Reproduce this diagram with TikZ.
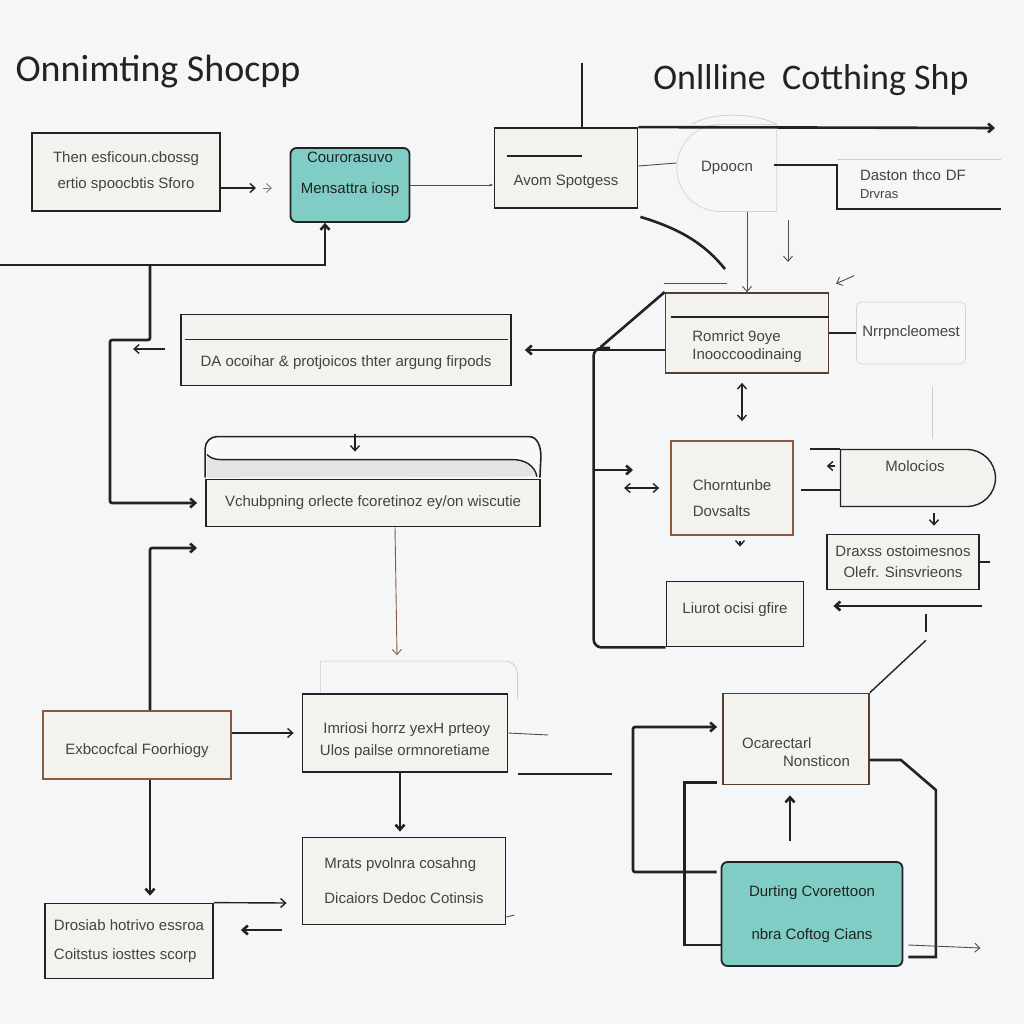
\documentclass[tikz,border=0pt]{standalone}
\usepackage{fontspec}
\setmainfont{Liberation Sans}
\newfontfamily\headfont{Carlito}
\usetikzlibrary{positioning, shapes.misc, arrows.meta}
\newcommand{\boxfont}{\fontsize{15}{18}\selectfont}

\definecolor{bgcol}{HTML}{F4F6F8}
\definecolor{paper}{HTML}{F3F2EF}
\definecolor{tealfill}{HTML}{7FCDC4}
\definecolor{ink}{HTML}{222222}
\definecolor{rust}{HTML}{8A5A3E}
\definecolor{band}{HTML}{E4E4E2}

\begin{document}
\begin{tikzpicture}[
        x = 1pt, y = -1pt,
        on grid,
        ->,
        >={Straight Barb[length=5pt, width=9pt]},
        base/.style = {rectangle, draw = ink, line width = 1.8pt, fill = paper,
                       text = ink!85, font = \boxfont, align = center, inner sep = 0pt},
        tealbase/.style = {base, fill = tealfill, text = ink, rounded corners = 6pt},
        rustbase/.style = {base, draw = rust},
        ghost/.style = {base, draw = gray!35, line width = 0.7pt, fill = paper!60},
        head/.style = {font = \headfont\fontsize{38}{40}\selectfont, text = ink},
        heavy/.style = {draw = ink, line width = 2.6pt},
        med/.style = {draw = ink, line width = 1.4pt},
        thinline/.style = {draw = ink!80, line width = 0.9pt},
        faint/.style = {draw = gray!40, line width = 0.7pt}]

      \fill[bgcol] (0,0) rectangle (1024,1024);
      \useasboundingbox (0,0) rectangle (1024,1024);

      %top row
      \node[base, minimum width = 188pt, minimum height = 78pt] (Intro) at (126,172)
        {Then esficoun.cbossg\\[8pt]ertio spoocbtis Sforo};
      \node[head] (TitleLeft) [above right = 100pt and 32pt of Intro] {Onnimting Shocpp};
      \node[tealbase, minimum width = 119pt, minimum height = 74pt] (Courier)
        [below right = 13pt and 224pt of Intro]
        {Courorasuvo\\[13pt]Mensattra iosp\\[6pt]\vphantom{A}};
      \node[base, minimum width = 143pt, minimum height = 80pt] (Avom)
        [above right = 17pt and 216pt of Courier] {\vphantom{A}\\[10pt]Avom Spotgess};
      \node[head, font = \headfont\fontsize{36}{40}\selectfont] (TitleRight)
        [above right = 88pt and 245pt of Avom] {Onllline\ \ Cotthing Shp};
      \node[ghost, rounded rectangle, rounded rectangle right arc = none,
            minimum width = 100pt, minimum height = 87pt] (Dpoocn)
        [right = 161pt of Avom] {Dpoocn};
      \node[base, draw = none, fill = none, align = left, minimum width = 162pt,
            minimum height = 48pt, text width = 118pt, inner xsep = 22pt] (Daston)
        [below right = 16pt and 353pt of Avom]
        {Daston thco DF\\{\fontsize{13}{14}\selectfont Drvras}};

      %right column
      \node[base, draw = rust!50!ink, align = left, minimum width = 163pt, minimum height = 80pt]
        (Romrict) [below right = 165pt and 181pt of Avom]
        {\vphantom{A}\\[10pt]Romrict 9oye\\Inooccoodinaing};
      \node[ghost, rounded corners = 5pt, minimum width = 109pt, minimum height = 62pt]
        (Nrrp) [right = 164pt of Romrict] {Nrrpncleomest};
      \node[rustbase, align = left, minimum width = 122pt, minimum height = 94pt] (Chorn)
        [below left = 155pt and 15pt of Romrict]
        {\vphantom{A}\\[2pt]Chorntunbe\\[8pt]Dovsalts};
      \node[base, line width = 1.4pt, rounded rectangle, rounded rectangle left arc = none,
            minimum width = 155pt, minimum height = 57pt] (Molo)
        [above right = 10pt and 183pt of Chorn] {Molocios\\[6pt]\vphantom{A}};
      \node[base, line width = 1.5pt, minimum width = 152pt, minimum height = 55pt] (Draxss)
        [below left = 84pt and 12pt of Molo]
        {Draxss ostoimesnos\\[3pt]Olefr. Sinsvrieons};
      \node[base, minimum width = 137pt, minimum height = 65pt] (Linot)
        [below right = 126pt and 3pt of Chorn] {Liurot ocisi gfire\\[-6pt]\vphantom{A}};

      %middle
      \node[base, minimum width = 330pt, minimum height = 71pt] (Protocol)
        [below right = 178pt and 220pt of Intro]
        {\vphantom{A}\\[8pt]DA ocoihar \& protjoicos thter argung firpods};
      \node[base, minimum width = 334pt, minimum height = 47pt] (Vchub)
        [below right = 153pt and 27pt of Protocol]
        {Vchubpning orlecte fcoretinoz ey/on wiscutie};

      %bottom rows
      \node[rustbase, minimum width = 188pt, minimum height = 68pt] (Extra)
        [below right = 573pt and 11pt of Intro] {\vphantom{A}\\[-6pt]Exbcocfcal Foorhiogy};
      \node[base, align = right, minimum width = 205pt, minimum height = 78pt] (Inmiosi)
        [above right = 12pt and 268pt of Extra]
        {\vphantom{A}\\[-2pt]Imriosi horrz yexH prteoy\\[4pt]Ulos pailse ormnoretiame};
      \node[base, align = left, minimum width = 203pt, minimum height = 87pt] (Mrats)
        [below left = 148pt and 1pt of Inmiosi]
        {Mrats pvolnra cosahng\\[17pt]Dicaiors Dedoc Cotinsis};
      \node[base, align = left, minimum width = 168pt, minimum height = 75pt] (Drosiab)
        [below left = 196pt and 8pt of Extra]
        {Drosiab hotrivo essroa\\[11pt]Coitstus iosttes scorp};
      \node[base, draw = rust!50!ink, align = left, minimum width = 146pt, minimum height = 91pt]
        (Ocar) [below right = 125pt and 61pt of Linot]
        {\vphantom{A}\\[8pt]Ocarectarl\\\hspace*{41pt}Nonsticon};
      \node[tealbase, minimum width = 181pt, minimum height = 104pt] (Durting)
        [below right = 175pt and 16pt of Ocar]
        {Durting Cvorettoon\\[25pt]nbra Coftog Cians};

      %free ends
      \coordinate (IntroOut) at (256,188);
      \coordinate (LeftIn) at (0,265);
      \coordinate (LeftFork) at (150,265);
      \coordinate (LeftBend) at (110,340);
      \coordinate (TopStub) at (582,63);
      \coordinate (TopEnd) at (995,128);
      \coordinate (RomrictFork) at (610,348);
      \coordinate (VerticalTap) at (595,470);
      \coordinate (DraxssArrow) at (982,606);
      \coordinate (ExtraEnd) at (197,548);
      \coordinate (OcarLoop) at (633,727);

      %tab on top of Vchub
      \draw[med, line width = 1.6pt, fill = paper!50!white, -]
        ([shift={(0,-1)}]Vchub.north west) -- ([shift={(0,-30)}]Vchub.north west)
        to[out=90, in=180] ([shift={(12,-42)}]Vchub.north west)
        -- ([shift={(-12,-42)}]Vchub.north east)
        to[out=0, in=90] ([shift={(0,-22)}]Vchub.north east)
        -- ([shift={(-1,-1)}]Vchub.north east);
      \fill[band] ([shift={(2,-1)}]Vchub.north west) -- ([shift={(2,-24)}]Vchub.north west)
        to[out=-45, in=180] ([shift={(22,-19)}]Vchub.north west)
        -- ([shift={(-28,-19)}]Vchub.north east)
        to[out=0, in=100] ([shift={(-4,-2)}]Vchub.north east) -- cycle;

      \begin{scope}[-]
      %inner lines
        \draw[med] ([shift={(2,-24)}]Vchub.north west)
          to[out=-45, in=180] ([shift={(22,-19)}]Vchub.north west)
          -- ([shift={(-28,-19)}]Vchub.north east)
          to[out=0, in=100] ([shift={(-4,-2)}]Vchub.north east);
        \draw[med] ([shift={(13,29)}]Avom.north west) -- ([shift={(88,29)}]Avom.north west);
        \draw[med] ([shift={(5,26)}]Protocol.north west) -- ([shift={(-4,26)}]Protocol.north east);
        \draw[med] ([shift={(6,25)}]Romrict.north west) -- ([shift={(0,25)}]Romrict.north east);
        \draw[faint] ([shift={(19,0)}]Inmiosi.north west) -- ([shift={(19,-32)}]Inmiosi.north west)
          [rounded corners = 12pt] -- ([shift={(9,-32)}]Inmiosi.north east)
          -- ([shift={(9,6)}]Inmiosi.north east);

      %plain lines
        \draw[heavy] (TopStub) -- (TopStub |- Avom.north);
        \draw[faint] ([xshift=-35pt]Dpoocn.north)
          .. controls +(20,-12) and +(-25,-12) .. ([xshift=50pt]Dpoocn.north);
        \draw[thinline] ([shift={(0,-2)}]Avom.east) -- ([shift={(0,-5)}]Dpoocn.west);
        \draw[med] ([shift={(-63,6)}]Daston.north west) -- ([shift={(0,6)}]Daston.north west)
          -- (Daston.south west) -- (Daston.south east);
        \draw[faint] (Daston.north west) -- (Daston.north east);
        \draw[heavy] ([shift={(2,8)}]Avom.south east)
          .. controls +(40,12) and +(-20,-25) .. ([shift={(-22,-23)}]Romrict.north);
        \draw[thinline] ([shift={(-1,-9)}]Romrict.north west) -- ([shift={(-20,-9)}]Romrict.north);
        \draw[med] (Romrict.east) -- (Nrrp.west);
        \draw[faint] ([shift={(21,23)}]Nrrp.south) -- ([shift={(17,-10)}]Molo.north);
        \draw[heavy] (Romrict.north west) -- ([shift={(-64,55)}]Romrict.north west);
        \draw[heavy, rounded corners = 8pt] (RomrictFork)
          -| ([xshift=-72pt]Linot.south west) -- (Linot.south west);
        \draw[heavy] (Molo.north west) -- ([xshift=-30pt]Molo.north west);
        \draw[heavy] ([shift={(0,12)}]Molo.west) -- ([shift={(7,2)}]Chorn.east);
        \draw[med] (Draxss.east) -- ([xshift=10pt]Draxss.east);
        \draw[heavy] ([shift={(23,24)}]Draxss.south) -- ([shift={(23,42)}]Draxss.south);
        \draw[med] ([shift={(23,50)}]Draxss.south) -- (Ocar.north east);
        \draw[thinline] (Inmiosi.east) -- ([shift={(40,2)}]Inmiosi.east);
        \draw[heavy] ([shift={(10,1)}]Inmiosi.south east) -- ([shift={(104,1)}]Inmiosi.south east);
        \draw[thinline] ([shift={(0,36)}]Mrats.east) -- ([shift={(8,34)}]Mrats.east);
        \draw[heavy] ([shift={(-5,-3)}]Ocar.south west)
          -| ([shift={(-36,31)}]Durting.west) -- ([shift={(0,31)}]Durting.west);
        \draw[heavy] ([shift={(0,21)}]Ocar.east) -- ++(31,0) -- ++(35,30)
          |- ([shift={(5,43)}]Durting.east);
      \end{scope}

      %arrows
      \draw[med] ([shift={(0,16)}]Intro.east) -- (IntroOut);
      \draw[thinline, draw = gray] ([shift={(7,0)}]IntroOut) -- ([shift={(16,0)}]IntroOut);
      \draw[thinline, -{Latex[length=4pt]}] (Courier.east) -- (Courier.east -| Avom.west);
      \draw[heavy] (LeftIn) -| ([xshift=-25pt]Courier.south);
      \draw[heavy, rounded corners = 2pt, shorten >= 8pt] (LeftFork) -- (LeftFork |- LeftBend)
        -- (LeftBend) |- (Vchub.west);
      \draw[med] ([shift={(-15,-1)}]Protocol.west) -- ([shift={(-47,-1)}]Protocol.west);
      \draw[heavy] (Avom.north east) -- (TopEnd);
      \draw[thinline] (Dpoocn.south -| Romrict.north) -- (Romrict.north);
      \draw[thinline] ([shift={(61,8)}]Dpoocn.south) -- ([shift={(61,50)}]Dpoocn.south);
      \draw[thinline] ([shift={(-2,-26)}]Nrrp.north west) -- ([shift={(-20,-18)}]Nrrp.north west);
      \draw[heavy, shorten >= 13pt] (Romrict.west |- Protocol.east) -- (Protocol.east);
      \draw[heavy] (VerticalTap) -- ++(38,0);
      \draw[med, <->] ([xshift=-46pt]Chorn.west) -- ([xshift=-11pt]Chorn.west);
      \draw[med, <->] ([shift={(-5,9)}]Romrict.south) -- ([shift={(10,-19)}]Chorn.north);
      \draw[med] ([shift={(-5,-12)}]Molo.west) -- ([shift={(-13,-12)}]Molo.west);
      \draw[med] ([shift={(19,6)}]Molo.south) -- ([shift={(31,-8)}]Draxss.north);
      \draw[med, shorten <= 5pt, shorten >= 34pt] ([xshift=8pt]Chorn.south) -- ([xshift=5pt]Linot.north);
      \draw[heavy, shorten >= 29pt] (DraxssArrow) -- (DraxssArrow -| Linot.east);
      \draw[med] ([shift={(-18,-45)}]Vchub.north) -- ([shift={(-18,-27)}]Vchub.north);
      \draw[thinline, draw = rust] ([xshift=22pt]Vchub.south) -- ([shift={(-8,-38)}]Inmiosi.north);
      \draw[heavy, rounded corners = 2pt] ([xshift=13pt]Extra.north) |- (ExtraEnd);
      \draw[med, shorten >= 8pt] (Extra.east |- Inmiosi.west) -- (Inmiosi.west);
      \draw[heavy] ([xshift=13pt]Extra.south) -- ([shift={(21,-7)}]Drosiab.north);
      \draw[med] (Drosiab.north east) -- ([shift={(-15,22)}]Mrats.west);
      \draw[heavy] ([shift={(-20,49)}]Mrats.west) -- ([shift={(27,-11)}]Drosiab.east);
      \draw[heavy] ([xshift=-5pt]Inmiosi.south) -- ([shift={(-4,-5)}]Mrats.north);
      \draw[heavy, rounded corners = 2pt] ([shift={(-4,-42)}]Durting.west) -| (OcarLoop)
        -- ([shift={(-5,-12)}]Ocar.west);
      \draw[heavy] ([shift={(-22,-20)}]Durting.north) -- ([shift={(-6,10)}]Ocar.south);
      \draw[thinline] ([shift={(5,31)}]Durting.east) -- ([shift={(77,34)}]Durting.east);
    \end{tikzpicture}
\end{document}
